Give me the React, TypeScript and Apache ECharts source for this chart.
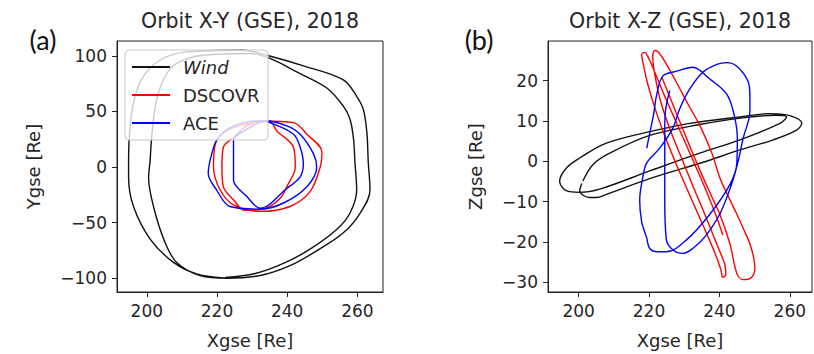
import React, { useEffect, useRef } from 'react';
import * as echarts from 'echarts';

// ---- tick values ----
const xTicks = [200, 220, 240, 260];
const yTicksXY = [-100, -50, 0, 50, 100];
const zTicksXZ = [-30, -20, -10, 0, 10, 20];
const seriesNames = ['Wind', 'DSCOVR', 'ACE'];
const titles = ['Orbit X-Y (GSE), 2018', 'Orbit X-Z (GSE), 2018'];
const panelLabels = ['(a)', '(b)'];

// ---- X-Y orbit (GSE) [Xgse, Ygse] ----
const windXY = [
  [222.8, -100], [214.2, -96.1], [207.6, -85.8], [201.0, -65.0], [196.2, -35.5], [194.8, -8.9],
  [194.8, 4.4], [195.1, 31.1], [196.2, 57.7], [198.4, 78.1], [201.5, 90.5], [205.2, 98.5],
  [211.4, 103.5], [227.5, 105.0], [234.2, 100.5], [245.1, 90.5], [256.0, 78.3], [259.8, 63.6],
  [261.7, 51.7], [262.7, 31.1], [263.1, 4.4], [263.6, -20.7], [260.8, -41.4], [256.0, -59.2],
  [248.4, -75.4], [240.8, -88.7], [232.3, -97.6], [222.8, -100],
  [215.2, -97.6], [208.5, -85.8], [205.2, -68.0], [201.9, -35.5], [200.5, -8.9], [200.9, 4.4],
  [201.5, 31.1], [202.8, 60.6], [205.2, 81.4], [208.5, 93.2], [216.1, 100.5], [229.4, 102.0],
  [235.1, 97.6], [243.0, 85.0], [251.3, 71.0], [256.0, 54.7], [257.9, 42.9], [258.9, 25.1],
  [259.3, 4.4], [259.8, -20.7], [257.9, -41.4], [254.1, -56.2], [246.5, -73.9], [239.4, -86.0],
  [230.9, -95.8], [222.3, -99.4],
];
const dscovrXY = [
  [230.4, 39.9], [233.2, 41.4], [241.8, 39.9], [245.6, 29.5], [249.9, 13.3], [249.4, 0],
  [246.5, -22.2], [240.8, -35.5], [232.3, -39.9], [224.7, -34.0], [220.9, -20.7], [219.0, 0],
  [219.5, 20.7], [222.8, 32.6], [230.4, 39.9],
  [235.1, 40.8], [237.0, 32.6], [241.8, 17.7], [242.3, 0], [239.9, -17.7], [238.0, -28.1],
  [233.7, -37.3], [228.0, -39.0], [224.7, -29.5], [221.8, -17.7], [221.4, 0], [221.8, 17.7],
  [224.7, 26.6], [228.5, 37.0], [232.3, 40.8],
];
const aceXY = [
  [232.3, 41.4], [234.2, 41.4], [239.9, 37.0], [243.7, 29.5], [247.5, 11.8], [248.4, 0],
  [245.6, -17.7], [238.8, -32.6], [232.3, -37.9], [223.7, -35.5], [219.9, -20.7], [217.5, -5.9],
  [218.5, 11.8], [220.4, 26.6], [225.2, 37.3], [232.3, 41.4],
  [235.1, 39.9], [241.8, 29.5], [243.7, 17.7], [244.6, 2.9], [243.7, -8.9], [239.9, -19.3],
  [232.3, -37.0], [228.5, -26.6], [224.7, -11.8], [224.7, 0], [224.7, 23.7], [228.5, 34.0],
  [233.2, 41.4],
];

// ---- X-Z orbit (GSE) [Xgse, Zgse] ----
const windXZ = [
  [201.2, -4.9], [204.1, -0.8], [208.8, 2.0], [220.2, 6.4], [234.4, 9.1], [247.2, 10.8],
  [255.8, 11.4], [259.1, 11.0], [257.2, 9.4], [245.8, 5.3], [234.4, 2.0], [220.2, -2.4],
  [206.0, -6.9], [200.3, -7.7], [196.5, -7.3], [194.6, -4.9], [196.6, -1.6], [200.3, 0.8],
  [207.9, 4.5], [222.1, 7.7], [231.6, 9.4], [245.8, 11.0], [254.3, 11.8], [260.0, 11.3],
  [263.4, 9.4], [261.9, 7.7], [255.3, 5.3], [245.8, 2.8], [236.3, 0], [220.2, -4.3],
  [207.9, -8.2], [205.0, -9.0], [203.1, -9.0], [200.3, -7.3], [200.9, -5.5],
];
const dscovrXZ = [
  [240.97, -18.26], [238.69, -12.64], [235.28, -5.31], [231.58, 2.03], [227.88, 9.37],
  [224.18, 16.70], [221.05, 23.30], [219.63, 25.99], [218.78, 26.97],
  [217.92, 26.48], [218.21, 24.77], [219.63, 19.14], [221.91, 12.54], [224.75, 5.70],
  [228.17, -1.63], [231.86, -8.97], [235.56, -16.31], [238.69, -22.67], [240.40, -26.82],
  [240.97, -28.78], [241.82, -28.04], [241.54, -25.60],
  [239.55, -21.20], [236.42, -14.35], [233.00, -7.26], [229.59, 0.07], [226.17, 7.41],
  [223.33, 14.74], [221.62, 21.59], [221.05, 25.99], [221.62, 27.46], [222.48, 27.21],
  [224.47, 24.77], [227.60, 19.88], [231.01, 14.25], [234.42, 8.88], [237.84, 2.03],
  [240.11, -4.08], [242.67, -8.97], [244.95, -13.13], [247.23, -17.53], [248.65, -20.46],
  [249.79, -24.13], [250.07, -26.58], [248.93, -28.95], [246.74, -29.34], [244.95, -27.80],
  [242.96, -20.39], [240.11, -13.13], [237.27, -7.75], [234.42, -2.13], [231.58, 3.74],
  [228.73, 9.85], [225.89, 15.97], [223.61, 20.86],
];
const aceXZ = [
  [225.89, 17.51], [224.75, 13.03], [224.47, 8.14], [224.47, 0.81], [224.47, -9.71],
  [224.95, -19.49], [226.74, -21.93], [229.59, -22.84], [232.43, -21.61], [235.85, -18.75],
  [240.11, -13.06], [243.44, -5.72], [245.32, 0], [246.74, 5.70], [248.65, 12.30],
  [248.65, 16.28], [248.08, 19.88], [244.95, 23.55], [242.11, 24.45], [239.26, 24.03],
  [235.28, 22.08], [231.58, 17.92], [228.73, 13.03], [226.74, 8.14], [223.04, 3.25],
  [219.35, -0.42], [218.21, -4.08], [217.35, -9.71], [217.92, -15.09], [219.26, -18.75],
  [220.20, -21.61], [222.48, -22.42], [224.95, -22.42], [230.64, -19.49], [237.27, -13.13],
  [242.96, -5.79], [244.95, -0.42], [245.09, 5.70], [244.10, 11.81], [242.02, 16.70],
  [237.27, 20.37], [232.43, 23.30], [227.88, 22.32], [223.90, 21.10], [222.11, 16.21],
  [221.34, 11.81], [220.20, 6.92], [219.35, 3.25],
];

const FONT = 'DejaVu Sans';
const TXT = '#262626';
const AX = '#222';
const colors: Record<string, string> = { Wind: '#111111', DSCOVR: '#ff0000', ACE: '#0000ff' };

const fmt = (v: number) => (v < 0 ? '\u2212' + Math.abs(v) : String(v));

function xAxis(gridIndex: number, min: number, max: number) {
  return {
    type: 'value', gridIndex, min, max,
    name: 'Xgse [Re]', nameLocation: 'middle', nameGap: 39,
    nameTextStyle: { fontFamily: FONT, fontSize: 18, color: TXT },
    axisLine: { show: true, onZero: false, lineStyle: { color: AX, width: 1 } },
    axisTick: { show: true, inside: false, length: 5, customValues: xTicks, lineStyle: { color: AX } },
    axisLabel: { show: true, customValues: xTicks, formatter: fmt, margin: 10, fontFamily: FONT, fontSize: 17, color: TXT },
    splitLine: { show: false },
  };
}
function yAxis(gridIndex: number, min: number, max: number, ticks: number[], name: string, gap: number) {
  return {
    type: 'value', gridIndex, min, max,
    name, nameLocation: 'middle', nameGap: gap,
    nameTextStyle: { fontFamily: FONT, fontSize: 18, color: TXT },
    axisLine: { show: true, onZero: false, lineStyle: { color: AX, width: 1 } },
    axisTick: { show: true, inside: false, length: 5, customValues: ticks, lineStyle: { color: AX } },
    axisLabel: { show: true, customValues: ticks, formatter: fmt, margin: 10, fontFamily: FONT, fontSize: 17, color: TXT },
    splitLine: { show: false },
  };
}

function line(name: string, data: number[][], idx: number) {
  return {
    type: 'line', name, data, xAxisIndex: idx, yAxisIndex: idx,
    symbol: 'none', showSymbol: false, smooth: 0.35, clip: true,
    lineStyle: { color: colors[name], width: 1.4 },
    itemStyle: { color: colors[name] },
    emphasis: { disabled: true },
  };
}

export default function App() {
  const ref = useRef<HTMLDivElement>(null);
  useEffect(() => {
    if (!ref.current) return;
    const chart = echarts.init(ref.current, undefined, { renderer: 'svg' });
    chart.setOption({
      animation: false,
      backgroundColor: '#ffffff',
      grid: [
        { left: 117, top: 41, width: 266, height: 254, show: true, borderColor: AX, borderWidth: 1, backgroundColor: 'transparent' },
        { left: 548, top: 41, width: 264, height: 254, show: true, borderColor: AX, borderWidth: 1, backgroundColor: 'transparent' },
      ],
      xAxis: [xAxis(0, 191.5, 267.3), xAxis(1, 191.3, 266.3)],
      yAxis: [
        yAxis(0, -112.4, 113.3, yTicksXY, 'Ygse [Re]', 75),
        yAxis(1, -32.4, 29.8, zTicksXZ, 'Zgse [Re]', 64),
      ],
      legend: {
        data: seriesNames, orient: 'vertical', left: 125, top: 50, z: 20,
        icon: 'rect', itemWidth: 38, itemHeight: 2, itemGap: 8,
        padding: [7, 10, 6, 7],
        backgroundColor: 'transparent', borderWidth: 0,
        selectedMode: false,
        formatter: (n: string) => (n === 'Wind' ? '{it|Wind}' : n),
        textStyle: {
          fontFamily: FONT, fontSize: 18, color: TXT, lineHeight: 20, padding: [0, 0, 0, 8],
          rich: { it: { fontStyle: 'italic', fontFamily: FONT, fontSize: 18, color: TXT, lineHeight: 20 } },
        },
      },
      graphic: {
        z: 10,
        elements: [
          {
            type: 'rect', z: 10, shape: { x: 125, y: 50, width: 143, height: 90, r: 4 },
            style: { fill: 'rgba(255,255,255,0.78)', stroke: '#c8c8c8', lineWidth: 1 },
          },
          { type: 'text', x: 250, y: 21, style: { text: titles[0], fontFamily: FONT, fontSize: 20.5, fill: TXT, textAlign: 'center', textVerticalAlign: 'middle' } },
          { type: 'text', x: 680, y: 21, style: { text: titles[1], fontFamily: FONT, fontSize: 20.5, fill: TXT, textAlign: 'center', textVerticalAlign: 'middle' } },
          { type: 'text', x: 43, y: 39, style: { text: panelLabels[0], fontFamily: 'Lato', fontSize: 27, fill: '#111', textAlign: 'center', textVerticalAlign: 'middle' } },
          { type: 'text', x: 479, y: 39, style: { text: panelLabels[1], fontFamily: 'Lato', fontSize: 27, fill: '#111', textAlign: 'center', textVerticalAlign: 'middle' } },
        ],
      },
      series: [
        line('Wind', windXY, 0), line('DSCOVR', dscovrXY, 0), line('ACE', aceXY, 0),
        line('Wind', windXZ, 1), line('DSCOVR', dscovrXZ, 1), line('ACE', aceXZ, 1),
      ],
    });
    return () => chart.dispose();
  }, []);
  return <div ref={ref} style={{ position: 'absolute', left: 0, top: 0, width: 814, height: 354 }} />;
}
